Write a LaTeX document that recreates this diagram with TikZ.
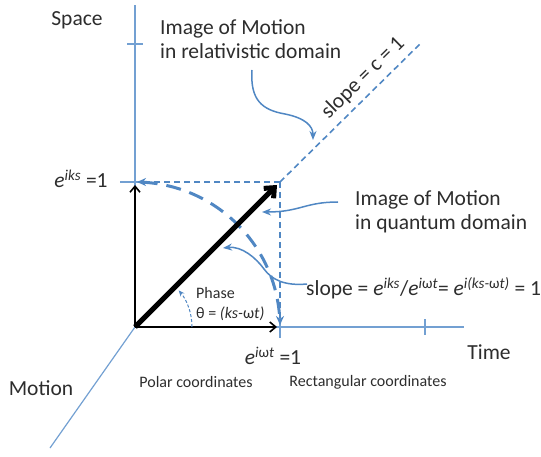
\documentclass[tikz,border=0pt]{standalone}
\usepackage{fontspec}
\setmainfont{Carlito}
\usetikzlibrary{arrows.meta}
\definecolor{axisblue}{RGB}{115,160,210}
\definecolor{dashblue}{RGB}{80,135,195}
\definecolor{txt}{RGB}{45,45,45}
\tikzset{
  axisline/.style={axisblue, line width=1.2},
  blk/.style={black, line width=1.6, -{Straight Barb[length=6pt,width=10pt]}},
  thickarr/.style={black, line width=5, -{Straight Barb[length=8pt,width=14pt]}},
  thindash/.style={dashblue, line width=1.6, dash pattern=on 6pt off 4pt},
  bigdash/.style={dashblue, line width=3, dash pattern=on 15pt off 9pt},
  callout/.style={dashblue, line width=1.5, -{Stealth[length=9pt,width=7pt]}},
  lbl/.style={txt, font=\fontsize{21.5}{24}\selectfont, inner sep=0pt},
  sml/.style={txt, font=\fontsize{16}{20}\selectfont, inner sep=0pt},
}
\newcommand{\ee}[1]{\textit{e}\textsuperscript{\textit{#1}}}
\begin{document}
\begin{tikzpicture}[x=1pt,y=-1pt]
\useasboundingbox (0,0) rectangle (541,457);
% coordinates
\coordinate (O) at (135,327);
\coordinate (Ytop) at (135,5);
\coordinate (Xend) at (464,327);
\coordinate (Mend) at (50,448);
\coordinate (C) at (280,182);
\coordinate (T) at (280,327);
\coordinate (L) at (422,42);
% axes
\draw[axisline] (O) -- (Ytop);
\draw[axisline] (O) -- (Xend);
\draw[axisline] (O) -- (Mend);
% ticks
\draw[axisline] (127,44) -- (143,44);
\draw[axisline] (425,319) -- (425,335);
\draw[axisline] (120,182) -- (142,182);
\draw[axisline] (280,318) -- (280,338);
% dashed projections
\draw[thindash, -{Stealth[length=9pt,width=8pt]}] (C) -- (137,182);
\draw[thindash, -{Stealth[length=9pt,width=8pt]}] (C) -- (280,325);
\draw[thindash] (C) -- (L);
% big dashed arc
\draw[bigdash] (O) ++(-87:145) arc[start angle=-87, end angle=-3, radius=145];
% black arrows
\draw[blk] (O) -- (135,185);
\draw[blk] (O) -- (277,327);
\draw[thickarr] (O) -- (277,185);
% phase arc
\draw[dashblue, line width=1, dash pattern=on 3pt off 2pt, -{Stealth[length=6pt,width=5pt]}] (O) ++(0:57) arc[start angle=0, end angle=-40, radius=57];
% labels
\node[lbl] (space) at (77,20) {Space};
\node[lbl, anchor=west, align=left] (rel) at (160,39) {Image of Motion\\in relativistic domain};
\node[lbl, anchor=west, align=left] (qua) at (355,212) {Image of Motion\\in quantum domain};
\node[lbl, anchor=west] (slp) at (306,288) {slope = \ee{iks}/\ee{i\textup{ω}t}= \ee{i(ks-\textup{ω}t)} = 1};
\node[lbl, rotate=44.6] (c1) at (363,78) {slope = c = 1};
\node[lbl] (eks) at (81,179) {\ee{iks} =1};
\node[lbl] (ewt) at (273,356) {\ee{i\textup{ω}t} =1};
\node[lbl] (time) at (489,352) {Time};
\node[lbl] (mot) at (41,388) {Motion};
\node[sml, anchor=west, align=left] (ph) at (196,304) {Phase\\θ = \textit{(ks-}ω\textit{t)}};
\node[sml] (polar) at (196,382) {Polar coordinates};
\node[sml] (rect) at (368,382) {Rectangular coordinates};
% callout arrows
\draw[callout] (252,70) .. controls (250,100) and (262,110) .. (285,114) .. controls (305,118) and (313,126) .. (313,140);
\draw[callout] (338,202) .. controls (305,202) and (300,212) .. (262,212);
\draw[callout] (307,284) .. controls (285,286) and (272,280) .. (264,269) .. controls (256,258) and (242,246) .. (223,248);
\end{tikzpicture}
\end{document}
